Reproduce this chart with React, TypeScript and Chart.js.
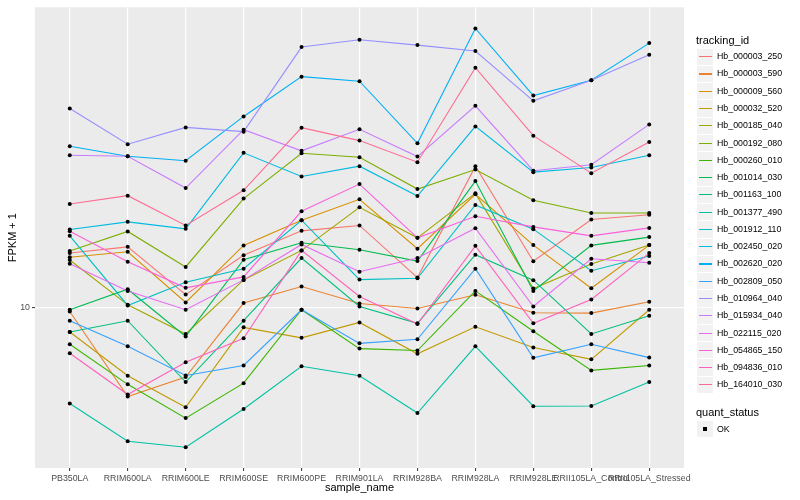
import React, { useEffect, useRef } from 'react';
import { Chart, registerables } from 'chart.js';

Chart.register(...registerables);

const sampleNames = [
  'PB350LA', 'RRIM600LA', 'RRIM600LE', 'RRIM600SE', 'RRIM600PE', 'RRIM901LA',
  'RRIM928BA', 'RRIM928LA', 'RRIM928LE', 'RRII105LA_Control', 'RRII105LA_Stressed',
];

const trackingIds = [
  'Hb_000003_250', 'Hb_000003_590', 'Hb_000009_560', 'Hb_000032_520', 'Hb_000185_040',
  'Hb_000192_080', 'Hb_000260_010', 'Hb_001014_030', 'Hb_001163_100', 'Hb_001377_490',
  'Hb_001912_110', 'Hb_002450_020', 'Hb_002620_020', 'Hb_002809_050', 'Hb_010964_040',
  'Hb_015934_040', 'Hb_022115_020', 'Hb_054865_150', 'Hb_094836_010', 'Hb_164010_030',
];

// FPKM + 1 per sample, one array per tracking_id
const hb000003_250 = [15.25, 16.0, 11.07, 14.99, 18.1, 18.87, 12.62, 29.8, 14.31, 19.76, 20.5];
const hb000003_590 = [9.72, 5.04, 5.86, 10.37, 11.78, 10.34, 9.95, 11.05, 9.62, 9.6, 10.47];
const hb000009_560 = [14.76, 15.41, 10.42, 16.18, 19.65, 23.09, 15.77, 23.99, 16.22, 11.63, 16.22];
const hb000032_520 = [8.3, 5.92, 4.64, 8.6, 7.93, 8.93, 7.01, 8.64, 7.36, 6.72, 9.85];
const hb000185_040 = [14.45, 10.23, 8.17, 12.4, 15.57, 21.71, 17.15, 24.17, 11.6, 14.02, 16.22];
const hb000192_080 = [15.49, 18.02, 13.7, 23.21, 32.94, 31.94, 24.99, 29.06, 22.91, 20.78, 20.78];
const hb000260_010 = [7.55, 5.54, 4.27, 5.59, 9.85, 7.3, 7.19, 11.39, 8.34, 6.17, 6.41];
const hb001014_030 = [9.85, 11.54, 8.02, 14.49, 16.51, 15.64, 14.34, 26.57, 11.39, 16.18, 17.25];
const hb001163_100 = [8.3, 9.05, 5.64, 9.05, 14.68, 10.1, 8.87, 15.06, 12.37, 8.17, 9.4];
const hb001377_490 = [4.78, 3.57, 3.41, 4.58, 6.37, 5.92, 4.44, 7.43, 4.68, 4.69, 5.64];
const hb001912_110 = [17.42, 10.18, 12.18, 13.52, 19.65, 12.43, 12.56, 22.1, 18.34, 13.31, 14.9];
const hb002450_020 = [18.29, 19.4, 18.38, 33.04, 27.54, 29.81, 23.68, 40.52, 28.47, 29.51, 32.43];
const hb002620_020 = [34.75, 32.19, 31.07, 43.75, 59.47, 57.42, 35.56, 86.24, 51.4, 57.85, 77.03];
const hb002809_050 = [9.05, 7.43, 5.93, 6.41, 9.85, 7.6, 7.84, 13.52, 6.8, 7.55, 6.81];
const hb010964_040 = [46.53, 35.3, 40.21, 38.9, 74.7, 79.01, 75.86, 72.44, 49.36, 57.85, 70.42];
const hb015934_040 = [32.43, 32.19, 25.18, 39.51, 33.55, 39.6, 32.11, 47.5, 28.78, 30.13, 41.15];
const hb022115_020 = [14.05, 11.39, 9.85, 12.4, 16.3, 13.21, 14.68, 18.48, 10.1, 14.6, 14.16];
const hb054865_150 = [18.06, 14.27, 11.66, 12.69, 21.05, 25.96, 17.15, 20.26, 18.66, 17.42, 18.52];
const hb094836_010 = [7.04, 5.12, 6.57, 7.9, 15.57, 10.91, 8.82, 16.13, 8.87, 10.66, 15.25];
const hb164010_030 = [22.27, 23.75, 18.87, 24.74, 40.12, 36.31, 30.74, 63.73, 37.73, 28.25, 35.95];

const seriesValues = [
  hb000003_250, hb000003_590, hb000009_560, hb000032_520, hb000185_040,
  hb000192_080, hb000260_010, hb001014_030, hb001163_100, hb001377_490,
  hb001912_110, hb002450_020, hb002620_020, hb002809_050, hb010964_040,
  hb015934_040, hb022115_020, hb054865_150, hb094836_010, hb164010_030,
];

const yTickValues = [10];
const yMin = 2.906;
const yMax = 101.54;

const palette = [
  '#F8766D', '#EA8331', '#D89000', '#C09B00', '#A3A500', '#7CAE00', '#39B600', '#00BB4E',
  '#00BF7D', '#00C1A3', '#00BFC4', '#00BAE0', '#00B0F6', '#35A2FF', '#9590FF', '#C77CFF',
  '#E76BF3', '#FA62DB', '#FF62BC', '#FF6C91',
];

const FONT = '"Liberation Sans", Arial, Helvetica, sans-serif';

const panelBg = {
  id: 'panelBg',
  beforeDraw(chart: any) {
    const { ctx, chartArea } = chart;
    ctx.save();
    ctx.fillStyle = '#EBEBEB';
    ctx.fillRect(chartArea.left, chartArea.top, chartArea.right - chartArea.left, chartArea.bottom - chartArea.top);
    ctx.restore();
  },
};

export default function App() {
  const ref = useRef<HTMLCanvasElement>(null);

  useEffect(() => {
    if (!ref.current) return;
    Chart.defaults.font.family = FONT;
    const lineSets = trackingIds.map((id, i) => ({
      type: 'line' as const,
      label: id,
      data: seriesValues[i].map((v, x) => ({ x, y: v })),
      borderColor: palette[i],
      backgroundColor: palette[i],
      borderWidth: 1.1,
      pointRadius: 0,
      tension: 0,
      order: 100 - i,
    }));
    const pointSet = {
      type: 'scatter' as const,
      label: 'OK',
      data: seriesValues.flatMap((vals) => vals.map((v, x) => ({ x, y: v }))),
      pointRadius: 2,
      pointBackgroundColor: '#000000',
      pointBorderWidth: 0,
      showLine: false,
      order: 0,
    };
    const grid = {
      color: '#FFFFFF',
      lineWidth: 1.2,
      drawTicks: true,
      tickLength: 3,
      tickColor: '#333333',
      tickWidth: 1,
    };
    const chart = new Chart(ref.current, {
      type: 'line',
      data: { datasets: [...lineSets, pointSet] as any },
      plugins: [panelBg],
      options: {
        animation: false,
        responsive: false,
        events: [],
        layout: { padding: { left: 0, right: 116, top: 5, bottom: 0 } },
        plugins: { legend: { display: false }, tooltip: { enabled: false } },
        scales: {
          x: {
            type: 'linear',
            min: -0.6,
            max: 10.6,
            afterBuildTicks: (s: any) => {
              s.ticks = sampleNames.map((_, i) => ({ value: i }));
            },
            afterFit: (s: any) => {
              s.height = 32;
            },
            ticks: {
              autoSkip: false,
              maxRotation: 0,
              minRotation: 0,
              padding: 2,
              color: '#4D4D4D',
              font: { size: 8.8 },
              callback: (v: any) => sampleNames[v as number] ?? '',
            },
            grid,
            border: { display: false },
            title: {
              display: true,
              text: 'sample_name',
              color: '#000000',
              font: { size: 11 },
              padding: { top: 0, bottom: 5 },
            },
          },
          y: {
            type: 'logarithmic',
            min: yMin,
            max: yMax,
            afterBuildTicks: (s: any) => {
              s.ticks = yTickValues.map((v) => ({ value: v }));
            },
            afterFit: (s: any) => {
              s.width = 35;
            },
            ticks: {
              color: '#4D4D4D',
              font: { size: 8.8 },
              padding: 2,
              callback: (v: any) => String(v),
            },
            grid,
            border: { display: false },
            title: {
              display: true,
              text: 'FPKM + 1',
              color: '#000000',
              font: { size: 11 },
              padding: { top: 6, bottom: 0 },
            },
          },
        },
      } as any,
    });
    return () => chart.destroy();
  }, []);

  const legendTop = 56.7;
  const step = 17.27;

  return (
    <div style={{ position: 'absolute', left: 0, top: 0, width: 800, height: 500, background: '#FFFFFF', fontFamily: FONT, overflow: 'hidden' }}>
      <canvas ref={ref} width={800} height={500} style={{ position: 'absolute', left: 0, top: 0, width: 800, height: 500 }} />
      <div style={{ position: 'absolute', left: 696, top: 34, fontSize: 11, lineHeight: '13px', color: '#000' }}>tracking_id</div>
      {trackingIds.map((id, i) => {
        const cy = legendTop + i * step;
        return (
          <React.Fragment key={id}>
            <div style={{ position: 'absolute', left: 697, top: cy - 8.1, width: 16.3, height: 16.3, background: '#F2F2F2' }}>
              <div style={{ position: 'absolute', left: 1.5, right: 1.5, top: 7.6, height: 1.1, background: palette[i] }} />
            </div>
            <div style={{ position: 'absolute', left: 717, top: cy - 5.5, fontSize: 8.8, lineHeight: '11px', color: '#000', whiteSpace: 'nowrap' }}>{id}</div>
          </React.Fragment>
        );
      })}
      <div style={{ position: 'absolute', left: 696, top: 406, fontSize: 11, lineHeight: '13px', color: '#000' }}>quant_status</div>
      <div style={{ position: 'absolute', left: 697, top: 420.8, width: 16.3, height: 16.3, background: '#F2F2F2' }}>
        <div style={{ position: 'absolute', left: 6.2, top: 6.2, width: 4, height: 4, background: '#000' }} />
      </div>
      <div style={{ position: 'absolute', left: 717, top: 423.5, fontSize: 8.8, lineHeight: '11px', color: '#000' }}>OK</div>
    </div>
  );
}
